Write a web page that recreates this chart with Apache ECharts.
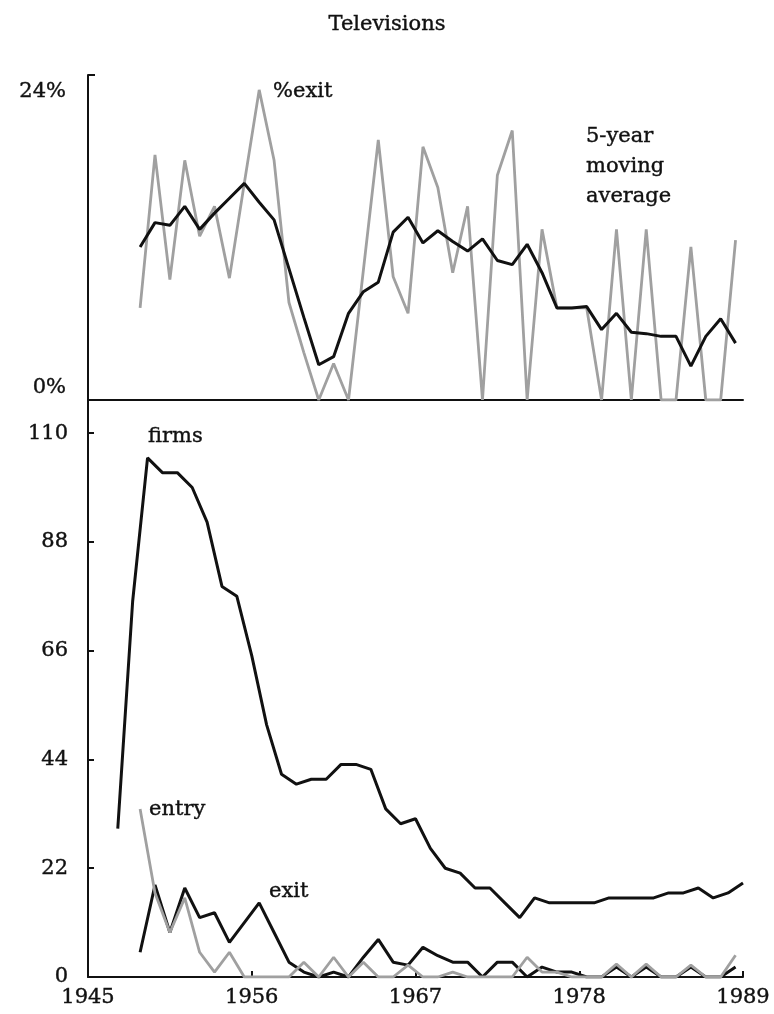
<!DOCTYPE html>
<html><head><meta charset="utf-8">
<script src="https://cdn.jsdelivr.net/npm/echarts@6/dist/echarts.min.js"></script>
<style>html,body{margin:0;padding:0;background:#fff}#c{width:774px;height:1014px}</style>
</head><body><div id="c"></div>
<script>
// ---- data ----
const firmYears = [1947,1948,1949,1950,1951,1952,1953,1954,1955,1956,1957,1958,1959,1960,1961,1962,1963,1964,1965,1966,1967,1968,1969,1970,1971,1972,1973,1974,1975,1976,1977,1978,1979,1980,1981,1982,1983,1984,1985,1986,1987,1988,1989];
const firms = [30,76,105,102,102,99,92,79,77,65,51,41,39,40,40,43,43,42,34,31,32,26,22,21,18,18,15,12,16,15,15,15,15,16,16,16,16,17,17,18,16,17,19];
// flows are plotted at mid-year (year + 0.5)
const flowYears = [1948,1949,1950,1951,1952,1953,1954,1955,1956,1957,1958,1959,1960,1961,1962,1963,1964,1965,1966,1967,1968,1969,1970,1971,1972,1973,1974,1975,1976,1977,1978,1979,1980,1981,1982,1983,1984,1985,1986,1987,1988];
const entry = [34,17,9,16,5,1,5,0,0,0,0,3,0,4,0,3,0,0,2.4,0,0,1,0,0,0,0,4,1,1,0,0,0,2.6,0,2.6,0,0,2.4,0,0,4.4];
const exits = [5,18.6,9,18,12,13,7,11,15,9,3,1,0,1,0,4,7.6,3,2.4,6,4.3,3,3,0,3,3,0,2,1,1,0,0,2,0,2,0,0,2,0,0,2];
const exitPct = [6.8,18.1,8.9,17.7,12.1,14.3,9.0,16.0,22.9,17.7,7.2,3.5,0,2.7,0,9.6,19.2,9.1,6.4,18.7,15.7,9.4,14.3,0,16.6,19.9,0,12.6,6.8,6.8,6.8,0,12.6,0,12.6,0,0,11.3,0,0,11.8];
const exitPctMA = [11.3,13.1,12.9,14.3,12.6,13.8,14.9,16.0,14.6,13.3,9.7,6.1,2.6,3.2,6.4,8.0,8.7,12.4,13.5,11.6,12.5,11.7,11.0,11.9,10.3,10.0,11.5,9.4,6.8,6.8,6.9,5.2,6.4,5.0,4.9,4.7,4.7,2.5,4.7,6.0,4.2];
const xTickLabels = [1945,1956,1967,1978,1989];
const firmsTickStep = 22;
const pctMax = 24;

// ---- build ----
const BASE = xTickLabels[0];
const XMAX = xTickLabels[xTickLabels.length-1] - BASE;
const XSTEP = xTickLabels[1] - xTickLabels[0];
const FONT = 'DejaVu Serif';
const INK = '#111';
const GRAY = '#a0a0a0';
const TB = {textBorderColor:INK, textBorderWidth:0.4};

const flowPts = arr => arr.map((v,i)=>[flowYears[i] + 0.5 - BASE, v]);
const firmPts = firms.map((v,i)=>[firmYears[i]-BASE, v]);

const chart = echarts.init(document.getElementById('c'), null, {renderer:'canvas'});
const axisLine = {show:true, onZero:false, lineStyle:{color:INK, width:2}};
const txt = (x,y,text,va,extra) => ({type:'text', x:x, y:y,
  style:Object.assign({text:text, font:'21px "DejaVu Serif"', fill:INK, stroke:INK, lineWidth:0.4, verticalAlign:va}, extra||{})});
chart.setOption({
  animation:false,
  backgroundColor:'#fff',
  title:{text:'Televisions', left:'center', top:9,
    textStyle:Object.assign({fontFamily:FONT, fontSize:21, fontWeight:'normal', color:INK}, TB)},
  grid:[
    {left:88, right:31, top:75, height:325},
    {left:88, right:31, top:400, bottom:37}
  ],
  xAxis:[
    {type:'value', gridIndex:0, min:0, max:XMAX, interval:XSTEP, axisLine:axisLine,
     axisTick:{show:false}, axisLabel:{show:false}, splitLine:{show:false}},
    {type:'value', gridIndex:1, min:0, max:XMAX, interval:XSTEP, axisLine:axisLine,
     axisTick:{show:true, inside:true, length:6, lineStyle:{color:INK, width:2}},
     axisLabel:Object.assign({show:true, margin:10, color:INK, fontFamily:FONT, fontSize:21,
       formatter:v=>String(BASE+v)}, TB), splitLine:{show:false}}
  ],
  yAxis:[
    {type:'value', gridIndex:0, min:0, max:pctMax, interval:pctMax, axisLine:axisLine,
     axisTick:{show:true, inside:true, length:7, lineStyle:{color:INK, width:2}},
     splitLine:{show:false},
     axisLabel:{show:true, margin:22, color:INK, fontFamily:FONT, fontSize:21,
       formatter:v=> v>0 ? '{t|'+v+'%}' : '{b|'+v+'%}',
       rich:{t:Object.assign({fontFamily:FONT, fontSize:21, color:INK, padding:[34,0,0,0]}, TB),
             b:Object.assign({fontFamily:FONT, fontSize:21, color:INK, padding:[0,0,24,0]}, TB)}}},
    {type:'value', gridIndex:1, min:0, max:116.7, interval:firmsTickStep, axisLine:axisLine,
     axisTick:{show:true, inside:true, length:6, lineStyle:{color:INK, width:2}},
     splitLine:{show:false},
     axisLabel:Object.assign({show:true, showMaxLabel:false, margin:20, color:INK, fontFamily:FONT, fontSize:21}, TB)}
  ],
  series:[
    {type:'line', xAxisIndex:0, yAxisIndex:0, data:flowPts(exitPct), symbol:'none',
     lineStyle:{color:GRAY, width:2.8}, z:2},
    {type:'line', xAxisIndex:0, yAxisIndex:0, data:flowPts(exitPctMA), symbol:'none',
     lineStyle:{color:INK, width:3}, z:3},
    {type:'line', xAxisIndex:1, yAxisIndex:1, data:firmPts, symbol:'none',
     lineStyle:{color:INK, width:3}, z:3},
    {type:'line', xAxisIndex:1, yAxisIndex:1, data:flowPts(exits), symbol:'none',
     lineStyle:{color:INK, width:3}, z:3},
    {type:'line', xAxisIndex:1, yAxisIndex:1, data:flowPts(entry), symbol:'none',
     lineStyle:{color:GRAY, width:2.8}, z:4}
  ],
  graphic:[
    txt(273, 92, '%exit', 'middle'),
    txt(586, 122, '5-year\nmoving\naverage', 'top', {lineHeight:30}),
    txt(148, 437, 'firms', 'middle'),
    txt(149, 810, 'entry', 'middle'),
    txt(269, 892, 'exit', 'middle')
  ]
});
</script></body></html>
